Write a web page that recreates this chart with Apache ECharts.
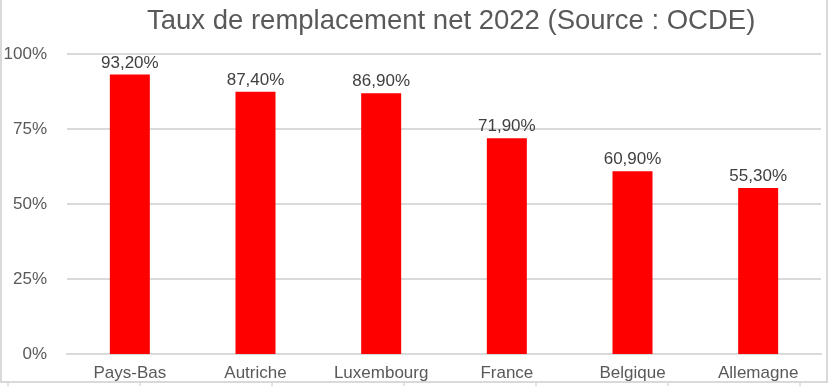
<!DOCTYPE html>
<html><head><meta charset="utf-8">
<script src="https://cdn.jsdelivr.net/npm/echarts@6/dist/echarts.min.js"></script>
<style>html,body{margin:0;padding:0;background:#fff}#c{width:829px;height:386px}</style>
</head><body><div id="c"></div>
<script>
const categories = ["Pays-Bas","Autriche","Luxembourg","France","Belgique","Allemagne"];
const values = [93.2, 87.4, 86.9, 71.9, 60.9, 55.3];
const yTicks = [0, 25, 50, 75, 100];
const titleText = "Taux de remplacement net 2022 (Source : OCDE)";

const chart = echarts.init(document.getElementById('c'), null, {renderer:'canvas'});
const font = '"Liberation Sans", Arial, Helvetica, sans-serif';
const cellTicks = [8, 140, 272, 404, 536, 668, 800].map(x => ({
  type:'line', silent:true, shape:{x1:x, y1:383, x2:x, y2:386}, style:{stroke:'#c8c8c8', lineWidth:1}
}));
chart.setOption({
  animation:false,
  backgroundColor:'#fff',
  title:{text:titleText,left:142,top:2,textStyle:{fontFamily:font,fontSize:27.5,fontWeight:'normal',color:'#595959'}},
  grid:{left:67,right:8,top:54,bottom:32,containLabel:false},
  xAxis:{type:'category',data:categories,
    axisLine:{lineStyle:{color:'#d9d9d9',width:2}},axisTick:{show:false},
    axisLabel:{fontFamily:font,fontSize:17,color:'#595959',margin:11}},
  yAxis:{type:'value',min:yTicks[0],max:yTicks[yTicks.length-1],interval:25,
    axisLine:{show:false},axisTick:{show:false},
    splitLine:{lineStyle:{color:'#d9d9d9',width:2}},
    axisLabel:{fontFamily:font,fontSize:17,color:'#595959',margin:20,formatter:v=>v+'%'}},
  series:[{type:'bar',data:values,barWidth:40,itemStyle:{color:'#ff0000'},
    label:{show:true,position:'top',distance:3,fontFamily:font,fontSize:17,color:'#404040',
      formatter:p=>p.value.toFixed(2).replace('.',',')+'%'}}],
  graphic:[{type:'rect',shape:{x:1,y:-2,width:826,height:384},style:{fill:null,stroke:'#d9d9d9',lineWidth:2},silent:true}].concat(cellTicks)
});
</script></body></html>
